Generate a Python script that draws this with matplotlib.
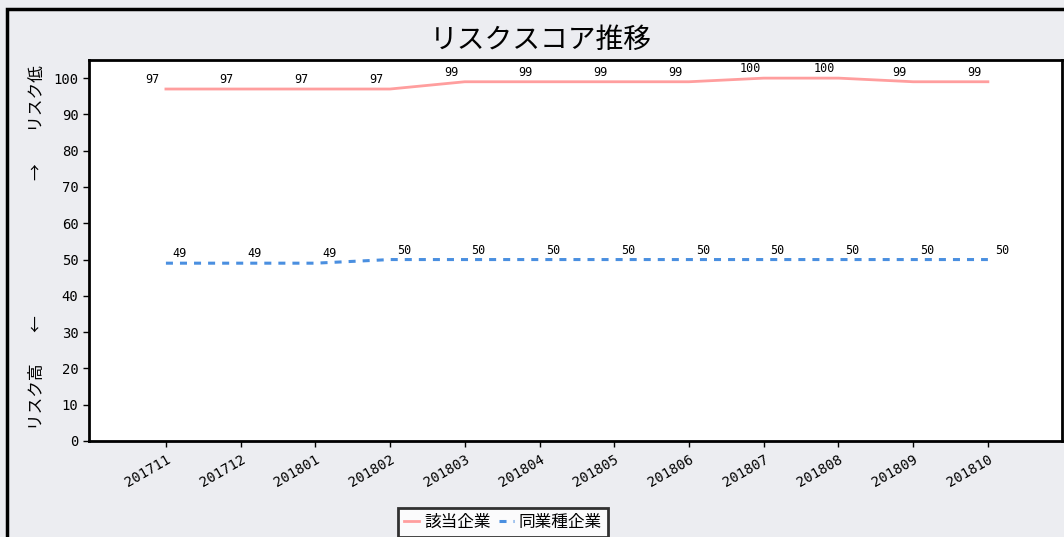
import matplotlib
matplotlib.use("Agg")
import matplotlib.pyplot as plt
from matplotlib.patches import Rectangle

# データ
months = ["201711", "201712", "201801", "201802", "201803", "201804",
          "201805", "201806", "201807", "201808", "201809", "201810"]
score_self = [97, 97, 97, 97, 99, 99, 99, 99, 100, 100, 99, 99]
score_peer = [49, 49, 49, 50, 50, 50, 50, 50, 50, 50, 50, 50]
series_names = ["該当企業", "同業種企業"]
title = "リスクスコア推移"

jp = ["Noto Sans CJK JP", "DejaVu Sans"]
mono = "DejaVu Sans Mono"
plt.rcParams["font.family"] = jp

fig = plt.figure(figsize=(10.64, 5.37), dpi=100)
fig.patch.set_facecolor("#ECEDF1")
ax = fig.add_axes([0.0836, 0.1788, 0.9144, 0.7095])
ax.set_facecolor("white")

x = list(range(len(months)))
ax.plot(x, score_self, color="#FF9E9E", lw=2.0, label=series_names[0])
ax.plot(x, score_peer, color="#4A8FE0", lw=2.2, dashes=(2.3, 2.3), label=series_names[1])

for i, v in enumerate(score_self):
    ax.annotate(str(v), (i, v), xytext=(-10, 2), textcoords="offset points",
                ha="center", va="bottom", fontsize=8.5, family=mono)
for i, v in enumerate(score_peer):
    ax.annotate(str(v), (i, v), xytext=(10, 2), textcoords="offset points",
                ha="center", va="bottom", fontsize=8.5, family=mono)

ax.set_xlim(-1.03, 11.99)
ax.set_ylim(0, 105)
ax.set_yticks(range(0, 101, 10))
ax.set_xticks(x)
ax.set_xticklabels(months, rotation=30, ha="right", va="top", rotation_mode="anchor",
                   family=mono, fontsize=10)
for lab in ax.get_yticklabels():
    lab.set_family(mono)
    lab.set_fontsize(10)
ax.tick_params(axis="both", direction="out", length=4, width=1, color="black")
ax.tick_params(axis="x", pad=4)
for s in ax.spines.values():
    s.set_linewidth(2)
    s.set_color("black")

fig.text(0.508, 0.926, title, ha="center", va="center", fontsize=20)
fig.text(0.035, 1 - 430 / 537, "リスク高\u3000    ←", rotation=90, ha="center", va="bottom", fontsize=12)
fig.text(0.035, 1 - 65 / 537, "→    \u3000リスク低", rotation=90, ha="center", va="top", fontsize=12)

leg = ax.legend(loc="upper center", bbox_to_anchor=(0.4727, 1 - 508 / 537), bbox_transform=fig.transFigure,
                ncol=2, frameon=True, fancybox=False, fontsize=12, handlelength=0.9,
                handletextpad=0.3, columnspacing=0.5, borderpad=0.35, borderaxespad=0)
leg.get_frame().set_edgecolor("black")
leg.get_frame().set_linewidth(2)

fig.patches.append(Rectangle((7 / 1064, -0.05), 1.2, 1 - 9 / 537 + 0.05, transform=fig.transFigure,
                             fill=False, edgecolor="black", lw=2.5, zorder=-1))

fig.savefig("out.png", dpi=100, facecolor=fig.get_facecolor())
